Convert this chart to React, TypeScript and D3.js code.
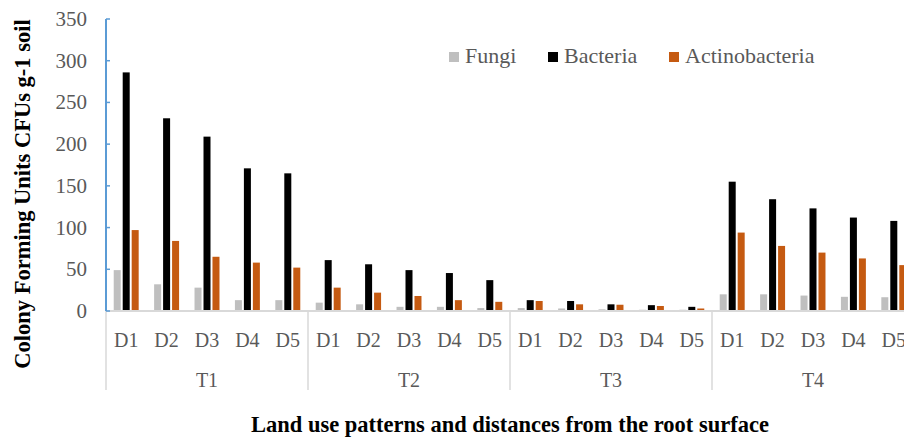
import React, { useEffect, useRef } from "react";
import * as d3 from "d3";

const width = 904;
const height = 439;

const treatments = ["T1", "T2", "T3", "T4"];
const distances = ["D1", "D2", "D3", "D4", "D5"];
const seriesNames = ["Fungi", "Bacteria", "Actinobacteria"];
const seriesColors = ["#BFBFBF", "#000000", "#C55A11"];

// values listed T1 D1..D5, T2 D1..D5, T3 ..., T4 ...
const fungi = [49, 32, 28, 13, 13, 10, 8, 5, 5, 3.5, 3.5, 3, 2, 1.5, 1.5, 20, 20, 18.5, 17, 16.5];
const bacteria = [286, 231, 209, 171, 165, 61, 56, 49, 45.5, 37, 13, 12, 8, 7, 5, 155, 134, 123, 112, 108];
const actinobacteria = [97, 84, 65, 58, 52, 28, 22, 18, 13, 11, 12, 8, 7.5, 6, 3, 94, 78, 70, 63, 55];

const yTicks = [0, 50, 100, 150, 200, 250, 300, 350];

const font = "'Liberation Serif', 'Times New Roman', serif";
const labelColor = "#595959";

const App = () => {
  const ref = useRef(null);

  useEffect(() => {
    const svg = d3.select(ref.current);
    svg.selectAll("*").remove();

    const left = 106;
    const right = 914;
    const top = 19;
    const bottom = 311;

    const y = d3.scaleLinear().domain([0, 350]).range([bottom, top]);

    const cats = treatments.flatMap((t) => distances.map((d) => t + "-" + d));
    const x = d3.scaleBand().domain(cats).range([left, right]).padding(0);
    const xGroup = d3.scaleBand().domain(treatments).range([left, right]).padding(0);
    const xInner = d3
      .scaleBand()
      .domain(seriesNames)
      .range([0, x.bandwidth()])
      .paddingInner(0.22)
      .paddingOuter(0.86);

    const allSeries = [fungi, bacteria, actinobacteria];

    // bars
    allSeries.forEach((vals, si) => {
      svg
        .append("g")
        .selectAll("rect")
        .data(vals)
        .enter()
        .append("rect")
        .attr("x", (_, i) => (x(cats[i]) as number) + (xInner(seriesNames[si]) as number))
        .attr("y", (d) => y(d))
        .attr("width", xInner.bandwidth())
        .attr("height", (d) => bottom - y(d))
        .attr("fill", seriesColors[si]);
    });

    // baseline
    svg
      .append("line")
      .attr("x1", left)
      .attr("x2", right)
      .attr("y1", bottom)
      .attr("y2", bottom)
      .attr("stroke", "#D9D9D9")
      .attr("stroke-width", 2);

    // group separators
    const seps = treatments.map((t) => xGroup(t) as number);
    svg
      .append("g")
      .selectAll("line")
      .data(seps)
      .enter()
      .append("line")
      .attr("x1", (d) => d)
      .attr("x2", (d) => d)
      .attr("y1", bottom)
      .attr("y2", 390)
      .attr("stroke", "#D9D9D9")
      .attr("stroke-width", 1.5);

    // D labels
    svg
      .append("g")
      .selectAll("text")
      .data(cats)
      .enter()
      .append("text")
      .attr("x", (d) => (x(d) as number) + x.bandwidth() / 2)
      .attr("y", 347)
      .attr("text-anchor", "middle")
      .attr("font-family", font)
      .attr("font-size", 20)
      .attr("fill", labelColor)
      .text((d) => d.split("-")[1]);

    // T labels
    svg
      .append("g")
      .selectAll("text")
      .data(treatments)
      .enter()
      .append("text")
      .attr("x", (d) => (xGroup(d) as number) + xGroup.bandwidth() / 2)
      .attr("y", 387)
      .attr("text-anchor", "middle")
      .attr("font-family", font)
      .attr("font-size", 20)
      .attr("fill", labelColor)
      .text((d) => d);

    // y axis
    svg
      .append("line")
      .attr("x1", left)
      .attr("x2", left)
      .attr("y1", top)
      .attr("y2", bottom)
      .attr("stroke", "#5B9BD5")
      .attr("stroke-width", 2);
    svg
      .append("g")
      .selectAll("line")
      .data(yTicks)
      .enter()
      .append("line")
      .attr("x1", left)
      .attr("x2", left + 4)
      .attr("y1", (d) => y(d))
      .attr("y2", (d) => y(d))
      .attr("stroke", "#5B9BD5")
      .attr("stroke-width", 1.5);
    svg
      .append("g")
      .selectAll("text")
      .data(yTicks)
      .enter()
      .append("text")
      .attr("x", 87)
      .attr("y", (d) => y(d) + 7)
      .attr("text-anchor", "end")
      .attr("font-family", font)
      .attr("font-size", 21)
      .attr("fill", labelColor)
      .text((d) => d);

    // axis titles
    svg
      .append("text")
      .attr("transform", "translate(30, 194) rotate(-90)")
      .attr("text-anchor", "middle")
      .attr("font-family", font)
      .attr("font-size", 22.5)
      .attr("font-weight", "bold")
      .attr("fill", "#000")
      .text("Colony Forming Units CFUs g-1 soil");

    svg
      .append("text")
      .attr("x", 510)
      .attr("y", 432)
      .attr("text-anchor", "middle")
      .attr("font-family", font)
      .attr("font-size", 22.5)
      .attr("font-weight", "bold")
      .attr("fill", "#000")
      .text("Land use patterns and distances from the root surface");

    // legend
    const legendX = [449, 548, 669];
    const lg = svg
      .append("g")
      .selectAll("g")
      .data(seriesNames)
      .enter()
      .append("g")
      .attr("transform", (_, i) => `translate(${legendX[i]}, 52)`);
    lg.append("rect")
      .attr("width", 10)
      .attr("height", 10)
      .attr("fill", (_, i) => seriesColors[i]);
    lg.append("text")
      .attr("x", 16)
      .attr("y", 11)
      .attr("font-family", font)
      .attr("font-size", 22)
      .attr("fill", labelColor)
      .text((d) => d);
  }, []);

  return (
    <svg
      ref={ref}
      width={width}
      height={height}
      style={{ position: "absolute", left: 0, top: 0, background: "#fff" }}
    />
  );
};

export default App;
